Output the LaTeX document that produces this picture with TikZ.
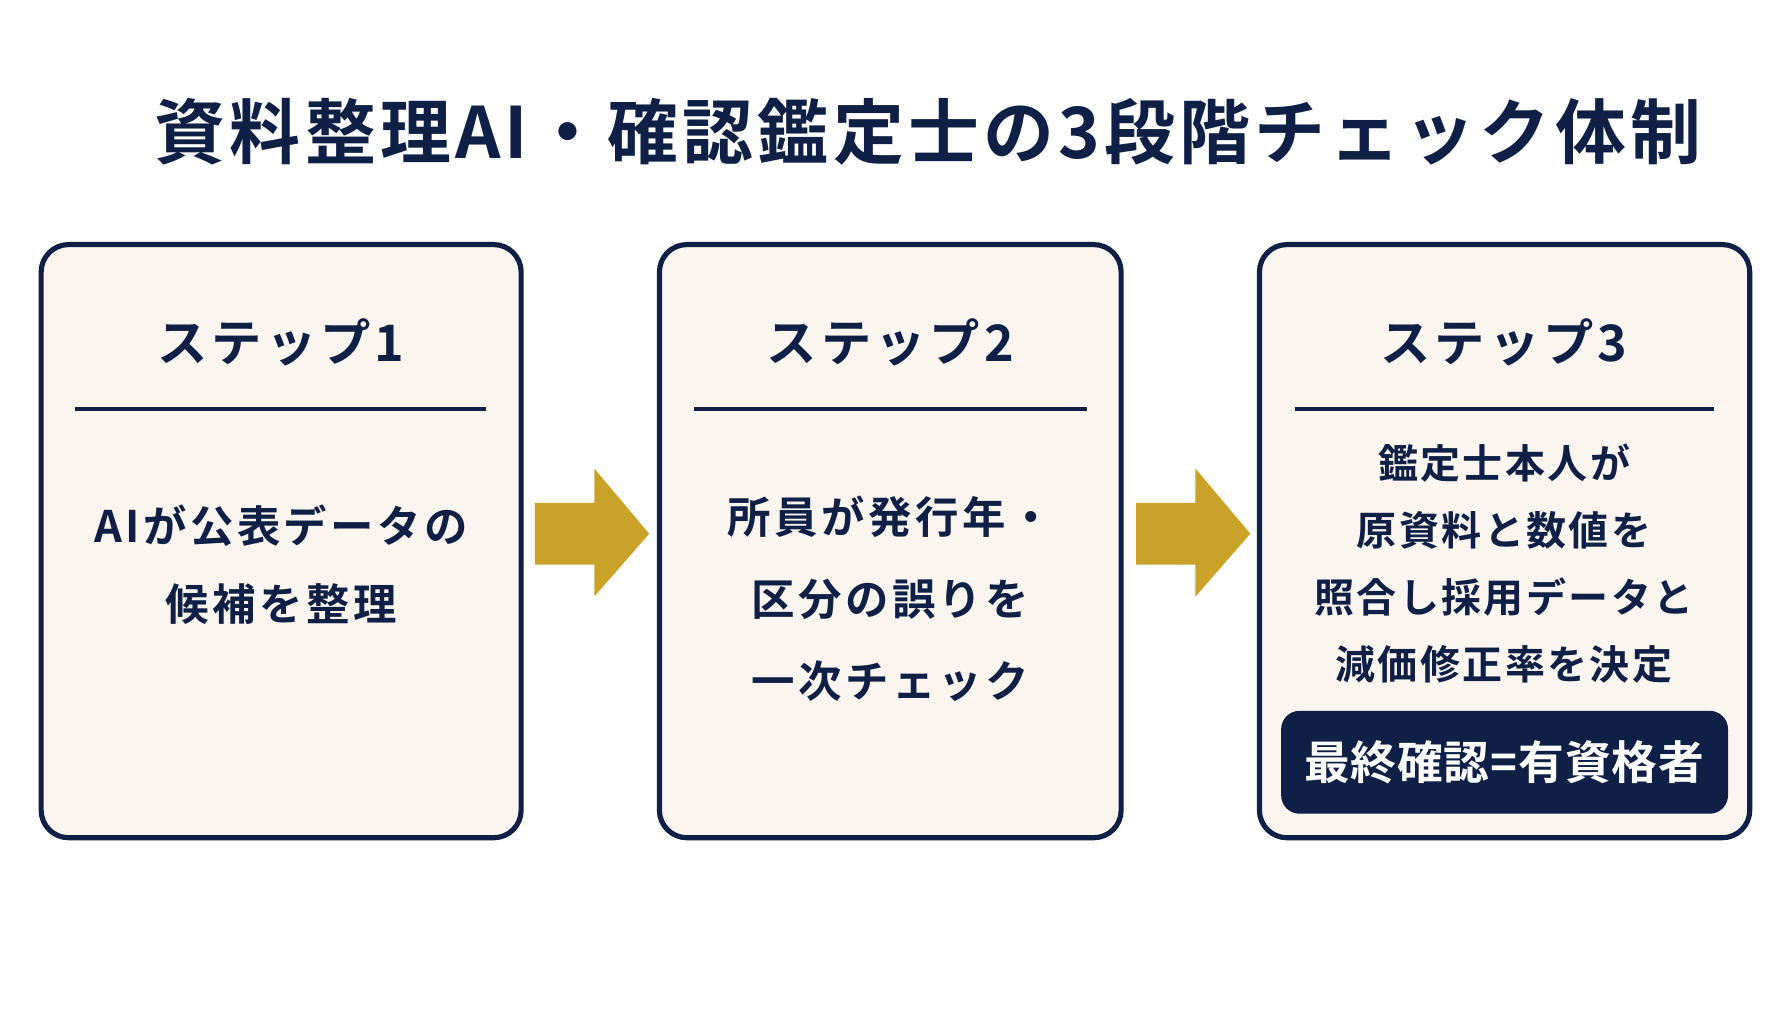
\documentclass[tikz,border=0pt]{standalone}
\usepackage{fontspec}
\setmainfont{Noto Sans CJK JP}[BoldFont={Noto Sans CJK JP Bold}]
\definecolor{navy}{HTML}{0F1F45}
\definecolor{paper}{HTML}{FAF6EF}
\definecolor{gold}{HTML}{C9A227}
\newcommand{\ls}[1]{\addfontfeatures{LetterSpace=#1}}
\begin{document}
\begin{tikzpicture}[x=1pt,y=-1pt,
  box/.style={draw=navy,line width=4.5pt,fill=paper,rounded corners=24pt},
  hdr/.style={text=navy,font=\bfseries\fontsize{44}{50}\selectfont\ls{8}},
  body/.style={text=navy,font=\bfseries\fontsize{38}{68}\selectfont\ls{8},align=center},
  rule/.style={draw=navy,line width=3pt},
  arr/.style={fill=gold,draw=none}]
\useasboundingbox (0,0) rectangle (1568,896);
\fill[white] (0,0) rectangle (1568,896);
\node[text=navy,font=\bfseries\fontsize{62}{70}\selectfont\ls{6}] (title) at (812,115) {資料整理AI・確認鑑定士の3段階チェック体制};
% boxes
\draw[box] (36,214) rectangle (456,733);
\draw[box] (577,214) rectangle (981,733);
\draw[box] (1102,214) rectangle (1531,733);
\node[hdr] (h1) at (246,300) {ステップ1};
\node[hdr] (h2) at (779,300) {ステップ2};
\node[hdr] (h3) at (1316,300) {ステップ3};
\draw[rule] (66,358) -- (425,358);
\draw[rule] (607,358) -- (951,358);
\draw[rule] (1133,358) -- (1500,358);
\node[body] (t1) at (246,494) {AIが公表データの\\候補を整理};
\node[body,font=\bfseries\fontsize{38}{72}\selectfont\ls{8}] (t2) at (779,524) {所員が発行年・\\区分の誤りを\\一次チェック};
\node[body,font=\bfseries\fontsize{35}{58.5}\selectfont\ls{6}] (t3) at (1316,493) {鑑定士本人が\\原資料と数値を\\照合し採用データと\\減価修正率を決定};
\fill[navy,rounded corners=16pt] (1121,622) rectangle (1512,712);
\node[text=white,font=\bfseries\fontsize{40}{46}\selectfont\ls{2}] (badge) at (1316,667) {最終確認=有資格者};
% arrows
\fill[arr] (468,440) -- (520,440) -- (520,410) -- (568,467) -- (520,522) -- (520,494) -- (468,494) -- cycle;
\fill[arr] (994,440) -- (1046,440) -- (1046,410) -- (1094,467) -- (1046,522) -- (1046,494) -- (994,494) -- cycle;
\end{tikzpicture}
\end{document}
